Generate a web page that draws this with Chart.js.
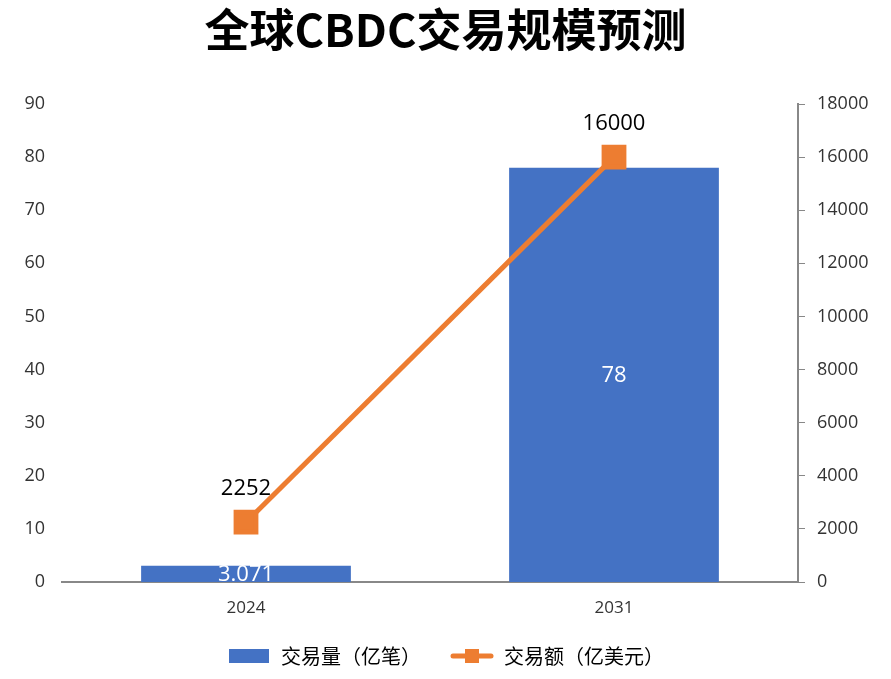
<!DOCTYPE html>
<html lang="zh">
<head>
    <meta charset="UTF-8">
    <script src="https://cdn.jsdelivr.net/npm/chart.js"></script>
    <title>全球CBDC交易规模预测</title>
    <style>
        html, body { margin: 0; padding: 0; background: #fff; }
        #wrap { width: 891px; height: 679px; }
    </style>
</head>
<body>
    <div id="wrap"><canvas id="cbdcChart"></canvas></div>

    <script>
        const years = ['2024', '2031'];
        const volume = [3.071, 78];        // 交易量（亿笔）
        const amount = [2252, 16000];      // 交易额（亿美元）
        const volumeLabels = ['3.071', '78'];
        const amountLabels = ['2252', '16000'];

        const blue = '#4472C4';
        const orange = '#ED7D31';
        const fontFamily = '"Noto Sans CJK SC", "Open Sans", sans-serif';
        const numFont = '"Open Sans", "Noto Sans CJK SC", sans-serif';

        // legend icons
        function barIcon() {
            const c = document.createElement('canvas');
            c.width = 40; c.height = 14;
            const g = c.getContext('2d');
            g.fillStyle = blue;
            g.fillRect(0, 0, 40, 14);
            return c;
        }
        function lineIcon() {
            const c = document.createElement('canvas');
            c.width = 44; c.height = 16;
            const g = c.getContext('2d');
            g.strokeStyle = orange;
            g.lineWidth = 5;
            g.lineCap = 'round';
            g.beginPath();
            g.moveTo(3, 8); g.lineTo(41, 8);
            g.stroke();
            g.fillStyle = orange;
            g.fillRect(15, 1, 14, 14);
            return c;
        }

        // draws value labels on bars and points
        const valueLabels = {
            id: 'valueLabels',
            afterDatasetsDraw(chart) {
                const ctx = chart.ctx;
                ctx.save();
                ctx.textAlign = 'center';
                ctx.textBaseline = 'middle';
                ctx.font = '22px ' + numFont;

                const barMeta = chart.getDatasetMeta(1);
                barMeta.data.forEach((bar, i) => {
                    ctx.fillStyle = '#ffffff';
                    ctx.fillText(volumeLabels[i], bar.x, (bar.y + bar.base) / 2 + 1);
                });

                const lineMeta = chart.getDatasetMeta(0);
                lineMeta.data.forEach((pt, i) => {
                    ctx.fillStyle = '#000000';
                    ctx.fillText(amountLabels[i], pt.x, pt.y - 33);
                });
                ctx.restore();
            }
        };

        const ctx = document.getElementById('cbdcChart').getContext('2d');

        const chart = new Chart(ctx, {
            data: {
                labels: years,
                datasets: [
                    {
                        type: 'line',
                        label: '交易额（亿美元）',
                        data: amount,
                        yAxisID: 'y1',
                        borderColor: orange,
                        backgroundColor: orange,
                        borderWidth: 5,
                        pointStyle: 'rect',
                        pointRadius: 14,
                        pointHoverRadius: 14,
                        order: 0
                    },
                    {
                        type: 'bar',
                        label: '交易量（亿笔）',
                        data: volume,
                        yAxisID: 'y',
                        backgroundColor: blue,
                        barPercentage: 0.57,
                        categoryPercentage: 1,
                        order: 1
                    }
                ]
            },
            plugins: [valueLabels],
            options: {
                responsive: true,
                maintainAspectRatio: false,
                animation: false,
                layout: { padding: { top: 0, bottom: 3, left: 0, right: 0 } },
                plugins: {
                    title: {
                        display: true,
                        text: '全球CBDC交易规模预测',
                        color: '#000',
                        font: { family: fontFamily, size: 45, weight: 'bold' },
                        padding: { top: 3, bottom: 47 }
                    },
                    legend: {
                        position: 'bottom',
                        labels: {
                            usePointStyle: true,
                            pointStyleWidth: 44,
                            color: '#222',
                            padding: 29,
                            font: { family: fontFamily, size: 20 },
                            generateLabels(chart) {
                                return [
                                    { text: '交易量（亿笔）', pointStyle: barIcon(), datasetIndex: 1, lineWidth: 0, fillStyle: blue, strokeStyle: blue },
                                    { text: '交易额（亿美元）', pointStyle: lineIcon(), datasetIndex: 0, lineWidth: 0, fillStyle: orange, strokeStyle: orange }
                                ];
                            }
                        }
                    },
                    tooltip: { enabled: false }
                },
                scales: {
                    x: {
                        grid: { display: false },
                        border: { color: '#888', width: 2 },
                        ticks: { color: '#333', font: { family: numFont, size: 17 }, padding: 8 },
                        afterFit(scale) { scale.height = 35; }
                    },
                    y: {
                        position: 'left',
                        min: 0,
                        max: 90,
                        ticks: { stepSize: 10, color: '#333', font: { family: numFont, size: 18 }, padding: 9 },
                        grid: { display: false },
                        border: { display: false },
                        afterFit(scale) { scale.width = 62; }
                    },
                    y1: {
                        position: 'right',
                        min: 0,
                        max: 18000,
                        ticks: {
                            stepSize: 2000, color: '#333', font: { family: numFont, size: 18 }, padding: 12,
                            callback: (v) => String(v)
                        },
                        grid: { drawOnChartArea: false, tickLength: 7, color: '#888', width: 2 },
                        border: { color: '#888', width: 2 },
                        afterFit(scale) { scale.width = 93; }
                    }
                }
            }
        });
    </script>
</body>
</html>
